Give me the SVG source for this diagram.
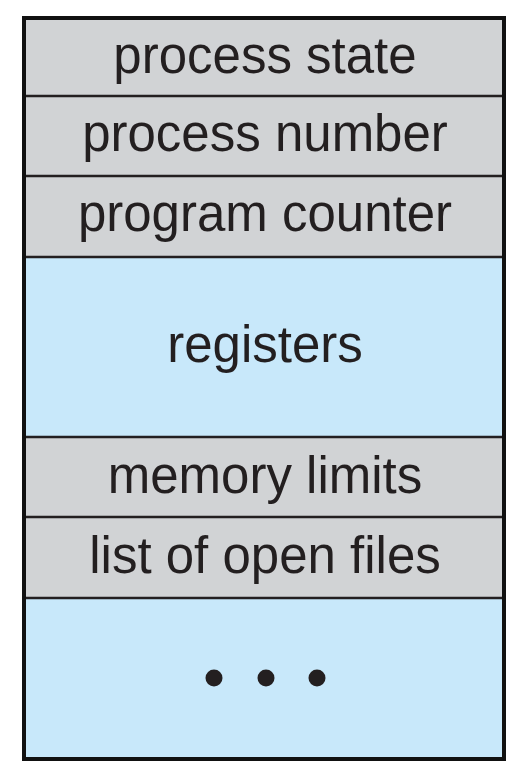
<svg xmlns="http://www.w3.org/2000/svg" width="527" height="771" viewBox="0 0 527 771">
  <style>
    .gray { fill: #d1d3d5; }
    .blue { fill: #c8e8fa; }
    .lbl { font-family: "Liberation Sans", Arial, sans-serif; font-size: 51px; fill: #231f20; text-anchor: middle; }
    .div { stroke: #231f20; stroke-width: 2.5; }
    .dot { fill: #231f20; }
  </style>
  <rect width="527" height="771" fill="#ffffff"/>
  <g id="process-state">
    <rect class="gray" x="24" y="18" width="480" height="78"/>
    <text class="lbl" x="265" y="73">process state</text>
  </g>
  <g id="process-number">
    <rect class="gray" x="24" y="96" width="480" height="80"/>
    <text class="lbl" x="265" y="151">process number</text>
  </g>
  <g id="program-counter">
    <rect class="gray" x="24" y="176" width="480" height="81"/>
    <text class="lbl" x="265" y="231">program counter</text>
  </g>
  <g id="registers">
    <rect class="blue" x="24" y="257" width="480" height="180"/>
    <text class="lbl" x="265" y="362">registers</text>
  </g>
  <g id="memory-limits">
    <rect class="gray" x="24" y="437" width="480" height="80"/>
    <text class="lbl" x="265" y="493">memory limits</text>
  </g>
  <g id="list-of-open-files">
    <rect class="gray" x="24" y="517" width="480" height="81"/>
    <text class="lbl" x="265" y="573">list of open files</text>
  </g>
  <g id="more">
    <rect class="blue" x="24" y="598" width="480" height="161"/>
    <circle class="dot" cx="214" cy="678" r="8.5"/>
    <circle class="dot" cx="266" cy="678" r="8.5"/>
    <circle class="dot" cx="317" cy="678" r="8.5"/>
  </g>
  <g id="connectors">
    <line class="div" x1="24" y1="96" x2="504" y2="96"/>
    <line class="div" x1="24" y1="176" x2="504" y2="176"/>
    <line class="div" x1="24" y1="257" x2="504" y2="257"/>
    <line class="div" x1="24" y1="437" x2="504" y2="437"/>
    <line class="div" x1="24" y1="517" x2="504" y2="517"/>
    <line class="div" x1="24" y1="598" x2="504" y2="598"/>
    <rect x="24" y="18" width="480" height="741" fill="none" stroke="#111111" stroke-width="4"/>
  </g>
</svg>
